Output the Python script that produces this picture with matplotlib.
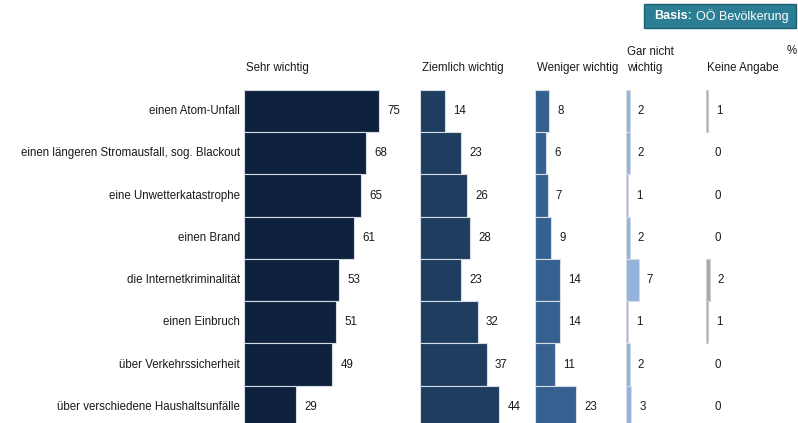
import matplotlib
matplotlib.use("Agg")
import matplotlib.pyplot as plt
from matplotlib.patches import Rectangle

plt.rcParams['font.family'] = ['Liberation Sans', 'DejaVu Sans']

categories = [
    "einen Atom-Unfall",
    "einen längeren Stromausfall, sog. Blackout",
    "eine Unwetterkatastrophe",
    "einen Brand",
    "die Internetkriminalität",
    "einen Einbruch",
    "über Verkehrssicherheit",
    "über verschiedene Haushaltsunfälle",
]
series_names = ["Sehr wichtig", "Ziemlich wichtig", "Weniger wichtig", "Gar nicht\nwichtig", "Keine Angabe"]
sehr = [75, 68, 65, 61, 53, 51, 49, 29]
ziemlich = [14, 23, 26, 28, 23, 32, 37, 44]
weniger = [8, 6, 7, 9, 14, 14, 11, 23]
garnicht = [2, 2, 1, 2, 7, 1, 2, 3]
keine = [1, 0, 0, 0, 2, 1, 0, 0]
colors = ["#0f223d", "#1f3d5f", "#36608f", "#93b3da", "#a8a8a8"]
edges = ["#d5dce6", "#d5dce6", "#d5dce6", "#d5dce6", "#d0d0d0"]

W, H = 798, 423
fig = plt.figure(figsize=(W / 100, H / 100), dpi=100)

def fx(px):
    return px / W

def fy(py):
    return 1 - py / H

FS = 8.3
px_per_unit = 1.8
col_left = [244, 420, 535, 626, 706]
col_width = [170, 110, 85, 75, 80]
top_px, bot_px = 90, 428
series = [sehr, ziemlich, weniger, garnicht, keine]
n = len(categories)
ypos = list(range(n))

for i, (vals, left, wid, col, ec) in enumerate(zip(series, col_left, col_width, colors, edges)):
    ax = fig.add_axes([fx(left), fy(bot_px), fx(wid), (bot_px - top_px) / H])
    ax.set_xlim(0, wid / px_per_unit)
    ax.set_ylim(n - 0.5, -0.5)
    ax.axis('off')
    ys = [y for y, v in zip(ypos, vals) if v > 0]
    vs = [v for v in vals if v > 0]
    ax.barh(ys, vs, height=1.0, color=col, edgecolor=ec, linewidth=0.8)
    for y, v in zip(ypos, vals):
        ax.annotate(str(v), xy=(v, y), xytext=(6, 0), textcoords='offset points',
                    va='center', ha='left', fontsize=FS, color='#1a1a1a')
    if i == 0:
        for y, c in zip(ypos, categories):
            ax.annotate(c, xy=(0, y), xytext=(-3, 0), textcoords='offset points',
                        va='center', ha='right', fontsize=FS, color='#1a1a1a')

# headers
hdr_x = [246, 422, 537, 627, 707]
for name, x in zip(series_names, hdr_x):
    fig.text(fx(x), fy(74), name, ha='left', va='bottom', fontsize=FS, color='#1a1a1a',
             linespacing=1.45)
fig.text(fx(797), fy(57), "%", ha='right', va='bottom', fontsize=FS, color='#1a1a1a')

# Basis box
rect = Rectangle((fx(644), fy(28)), fx(796 - 644), (28 - 4) / H, transform=fig.transFigure,
                 facecolor="#2b7e93", edgecolor="#1d5f70", linewidth=1.0)
fig.patches.append(rect)
t1 = fig.text(fx(654), fy(16), "Basis:", ha='left', va='center', fontsize=9,
              color='white', fontweight='bold')
fig.canvas.draw()
bb = t1.get_window_extent()
fig.text(bb.x1 / W + fx(4), fy(16), "OÖ Bevölkerung", ha='left', va='center', fontsize=9,
         color='white')

fig.savefig("out.png", dpi=100)
